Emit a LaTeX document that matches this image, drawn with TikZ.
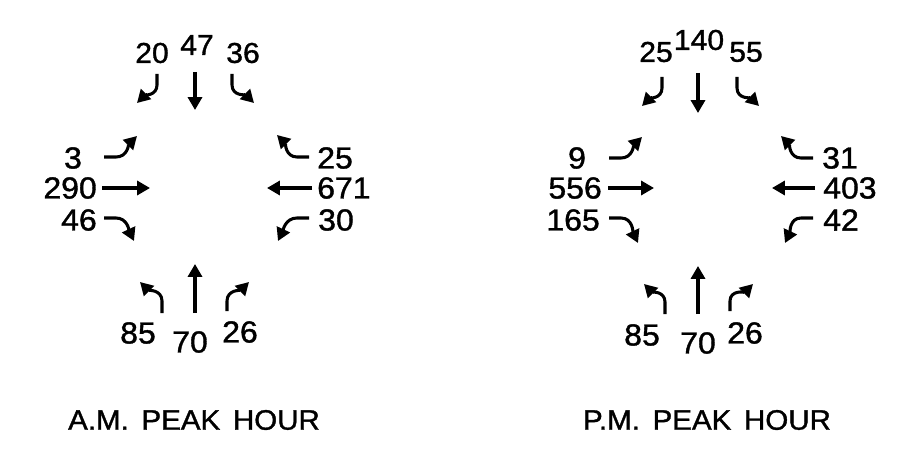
\documentclass[tikz,border=0pt]{standalone}
\usepackage{fontspec}
\setmainfont[FakeBold=1.2,FakeStretch=1.05]{Liberation Sans}
\usetikzlibrary{arrows.meta}
\begin{document}
\begin{tikzpicture}[x=0.03cm,y=0.03cm,
  lbl/.style={inner sep=0pt,font=\fontsize{26}{30}\selectfont},
  toplbl/.style={inner sep=0pt,font=\fontsize{24.5}{28}\selectfont},
  ttl/.style={inner sep=0pt,font=\fontsize{24}{28}\selectfont},
  mv/.style={line width=2.6pt,-{Triangle[length=11pt,width=12pt]}}]
\useasboundingbox (0,0) rectangle (900,465);
% ---------- A.M. ----------
\node[toplbl] (a20) at (152,412) {20};
\node[toplbl] (a47) at (197,420) {47};
\node[toplbl] (a36) at (243,412) {36};
\node[lbl] (a3) at (73,307) {3};
\node[lbl,anchor=east] (a290) at (97,277) {290};
\node[lbl,anchor=east] (a46) at (97,245) {46};
\node[lbl,anchor=west] (a25) at (317,307) {25};
\node[lbl,anchor=west] (a671) at (317,277) {671};
\node[lbl,anchor=west] (a30) at (318,245) {30};
\node[lbl] (a85) at (138,132) {85};
\node[lbl] (a70) at (190,123) {70};
\node[lbl] (a26) at (240,133) {26};
\node[ttl] (aT) at (194,45) {A.M.\hspace{0.45em}PEAK\hspace{0.45em}HOUR};
% southbound
\draw[mv] (157,391) -- (157,380) to[out=-90,in=45] (137,362);
\draw[mv] (195,393) -- (195,355);
\draw[mv] (232,391) -- (232,380) to[out=-90,in=135] (254,362);
% eastbound
\draw[mv] (104,308) -- (116,308) to[out=0,in=-135] (137,329);
\draw[mv] (102,277) -- (150,277);
\draw[mv] (104,247) -- (116,247) to[out=0,in=115] (134,224);
% westbound
\draw[mv] (309,308) -- (297,308) to[out=180,in=-45] (277,330);
\draw[mv] (312,277) -- (267,277);
\draw[mv] (309,247) -- (297,247) to[out=180,in=65] (278,224);
% northbound
\draw[mv] (162,152) -- (162,164) to[out=90,in=-45] (140,183);
\draw[mv] (195,152) -- (195,201);
\draw[mv] (227,154) -- (227,164) to[out=90,in=-135] (249,183);
% ---------- P.M. ----------
\node[toplbl] (p25) at (656,413) {25};
\node[toplbl] (p140) at (699,425) {140};
\node[toplbl] (p55) at (746,413) {55};
\node[lbl] (p9) at (577,307) {9};
\node[lbl,anchor=east] (p556) at (602,277) {556};
\node[lbl,anchor=east] (p165) at (600,245) {165};
\node[lbl,anchor=west] (p31) at (822,307) {31};
\node[lbl,anchor=west] (p403) at (823,277) {403};
\node[lbl,anchor=west] (p42) at (823,245) {42};
\node[lbl] (p85) at (642,130) {85};
\node[lbl] (p70) at (698,122) {70};
\node[lbl] (p26) at (745,132) {26};
\node[ttl] (pT) at (707,45) {P.M.\hspace{0.45em}PEAK\hspace{0.45em}HOUR};
% southbound
\draw[mv] (662,388) -- (662,377) to[out=-90,in=45] (642,359);
\draw[mv] (698,392) -- (698,352);
\draw[mv] (737,388) -- (737,377) to[out=-90,in=135] (759,359);
% eastbound
\draw[mv] (609,307) -- (621,307) to[out=0,in=-135] (642,328);
\draw[mv] (608,277) -- (654,277);
\draw[mv] (609,247) -- (621,247) to[out=0,in=115] (638,222);
% westbound
\draw[mv] (813,307) -- (801,307) to[out=180,in=-45] (781,329);
\draw[mv] (815,277) -- (772,277);
\draw[mv] (813,247) -- (801,247) to[out=180,in=65] (785,222);
% northbound
\draw[mv] (665,151) -- (665,163) to[out=90,in=-45] (644,181);
\draw[mv] (698,151) -- (698,199);
\draw[mv] (730,154) -- (730,164) to[out=90,in=-135] (753,181);
\end{tikzpicture}
\end{document}
